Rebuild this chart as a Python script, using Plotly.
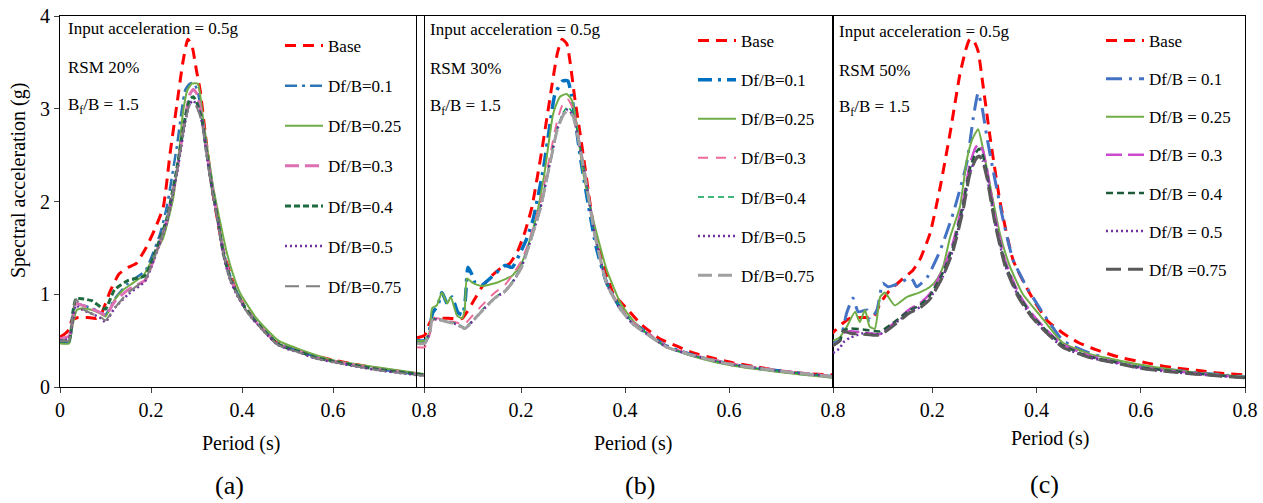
import plotly.graph_objects as go

W, H = 1263, 503
FONT = "Liberation Serif"

NAMES_AB = ["Base", "Df/B=0.1", "Df/B=0.25", "Df/B=0.3", "Df/B=0.4", "Df/B=0.5", "Df/B=0.75"]
NAMES_C = ["Base", "Df/B = 0.1", "Df/B = 0.25", "Df/B = 0.3", "Df/B = 0.4", "Df/B = 0.5", "Df/B =0.75"]
X_TICKS_A = [0, 0.2, 0.4, 0.6, 0.8]
X_TICKS_BC = [0.2, 0.4, 0.6, 0.8]
Y_TICKS = [0, 1, 2, 3, 4]

# ---------------- panel (a) RSM 20% ----------------
A_T_BASE = [0.0, 0.01, 0.02, 0.026, 0.04, 0.06, 0.08, 0.09, 0.1, 0.11, 0.13, 0.15, 0.167, 0.19, 0.21, 0.227, 0.242, 0.257, 0.27, 0.281,
            0.29, 0.3, 0.308, 0.32, 0.335, 0.36, 0.39, 0.425, 0.47, 0.5, 0.55, 0.6, 0.7, 0.8]
A_BASE = [0.54, 0.57, 0.62, 0.72, 0.75, 0.75, 0.74, 0.78, 0.90, 1.03, 1.22, 1.29, 1.33, 1.51, 1.72, 1.94, 2.52, 3.05, 3.5, 3.75,
          3.68, 3.41, 3.2, 2.7, 2.12, 1.45, 1.0, 0.74, 0.5, 0.43, 0.35, 0.29, 0.2, 0.13]
A_T_025 = [0.0, 0.02, 0.027, 0.037, 0.05, 0.07, 0.086, 0.1, 0.12, 0.14, 0.16, 0.183, 0.2, 0.227, 0.249, 0.262, 0.27, 0.28, 0.29, 0.303,
           0.315, 0.337, 0.352, 0.367, 0.38, 0.396, 0.432, 0.48, 0.53, 0.6, 0.7, 0.8]
A_DF025 = [0.47, 0.47, 0.65, 0.83, 0.85, 0.83, 0.80, 0.76, 0.94, 1.05, 1.12, 1.2, 1.35, 1.61, 2.04, 2.55, 2.95, 3.2, 3.27, 3.27,
           2.87, 2.15, 1.78, 1.44, 1.22, 1.01, 0.74, 0.5, 0.4, 0.29, 0.21, 0.14]
A_T_GRP = [0.0, 0.02, 0.028, 0.035, 0.05, 0.07, 0.09, 0.1, 0.12, 0.15, 0.187, 0.205, 0.22, 0.235, 0.257, 0.275, 0.285, 0.293, 0.302, 0.312,
           0.323, 0.334, 0.347, 0.359, 0.374, 0.389, 0.407, 0.424, 0.45, 0.477, 0.5, 0.527, 0.56, 0.608, 0.7, 0.8]
A_DF01 = [0.48, 0.48, 0.75, 0.90, 0.88, 0.85, 0.80, 0.78, 0.95, 1.12, 1.25, 1.45, 1.65, 1.95, 2.6, 3.2, 3.27, 3.28, 3.2, 2.92,
          2.55, 2.2, 1.83, 1.47, 1.2, 1.02, 0.86, 0.75, 0.61, 0.48, 0.43, 0.38, 0.33, 0.27, 0.19, 0.13]
A_DF03 = [0.52, 0.55, 0.75, 0.90, 0.88, 0.84, 0.80, 0.77, 0.92, 1.05, 1.15, 1.36, 1.57, 1.8, 2.33, 2.9, 3.15, 3.21, 3.15, 2.9,
          2.52, 2.17, 1.8, 1.45, 1.18, 1.01, 0.85, 0.74, 0.6, 0.47, 0.42, 0.38, 0.32, 0.27, 0.19, 0.13]
A_DF04 = [0.5, 0.5, 0.8, 0.95, 0.95, 0.93, 0.86, 0.84, 1.05, 1.15, 1.2, 1.4, 1.6, 1.82, 2.36, 2.9, 3.1, 3.13, 3.05, 2.88,
          2.5, 2.15, 1.8, 1.44, 1.17, 1.01, 0.85, 0.74, 0.6, 0.47, 0.42, 0.38, 0.32, 0.27, 0.19, 0.13]
A_DF05 = [0.5, 0.52, 0.7, 0.88, 0.83, 0.79, 0.74, 0.70, 0.85, 1.0, 1.14, 1.35, 1.56, 1.78, 2.3, 2.85, 3.05, 3.09, 3.02, 2.86,
          2.48, 2.13, 1.78, 1.42, 1.15, 0.99, 0.84, 0.73, 0.59, 0.46, 0.41, 0.37, 0.31, 0.26, 0.18, 0.12]
A_DF075 = [0.5, 0.5, 0.8, 0.95, 0.84, 0.79, 0.75, 0.72, 0.85, 1.02, 1.16, 1.36, 1.57, 1.8, 2.33, 2.86, 3.04, 3.07, 3.0, 2.85,
           2.48, 2.13, 1.78, 1.43, 1.16, 1.0, 0.84, 0.73, 0.59, 0.46, 0.41, 0.37, 0.31, 0.26, 0.18, 0.12]

# ---------------- panel (b) RSM 30% ----------------
B_T_BASE = [0.0, 0.015, 0.025, 0.035, 0.06, 0.087, 0.095, 0.106, 0.125, 0.144, 0.163, 0.178, 0.194, 0.208, 0.221, 0.24, 0.26, 0.27, 0.279, 0.288,
            0.294, 0.304, 0.314, 0.323, 0.342, 0.367, 0.377, 0.406, 0.43, 0.467, 0.5, 0.53, 0.57, 0.608, 0.65, 0.711, 0.76, 0.8]
B_BASE = [0.53, 0.56, 0.70, 0.74, 0.74, 0.74, 0.8, 0.9, 1.08, 1.2, 1.29, 1.33, 1.47, 1.68, 1.94, 2.55, 3.27, 3.6, 3.75, 3.7,
          3.52, 3.09, 2.72, 2.37, 1.65, 1.18, 1.01, 0.83, 0.68, 0.52, 0.44, 0.37, 0.31, 0.26, 0.22, 0.16, 0.14, 0.13]
B_T_01 = [0.0, 0.015, 0.022, 0.03, 0.04, 0.048, 0.058, 0.067, 0.079, 0.088, 0.093, 0.098, 0.105, 0.112, 0.125, 0.15, 0.169, 0.183, 0.198, 0.211,
          0.223, 0.243, 0.255, 0.265, 0.28, 0.29, 0.297, 0.305, 0.315, 0.33, 0.345, 0.365, 0.39, 0.415, 0.45, 0.48, 0.544, 0.608, 0.7, 0.8]
B_DF01 = [0.5, 0.5, 0.55, 0.8, 0.88, 1.02, 0.9, 0.97, 0.8, 0.78, 0.95, 1.29, 1.22, 1.12, 1.1, 1.22, 1.31, 1.29, 1.44, 1.6,
          1.8, 2.35, 2.8, 3.15, 3.3, 3.3, 3.15, 2.85, 2.45, 1.95, 1.5, 1.12, 0.86, 0.7, 0.55, 0.44, 0.32, 0.24, 0.17, 0.11]
B_T_025 = [0.0, 0.015, 0.025, 0.029, 0.038, 0.048, 0.058, 0.065, 0.077, 0.087, 0.092, 0.096, 0.108, 0.125, 0.156, 0.183, 0.2, 0.215, 0.23, 0.245,
           0.262, 0.275, 0.288, 0.298, 0.308, 0.319, 0.339, 0.365, 0.39, 0.404, 0.43, 0.48, 0.544, 0.608, 0.7, 0.8]
B_DF025 = [0.5, 0.5, 0.6, 0.85, 0.88, 1.02, 0.9, 0.97, 0.77, 0.74, 0.85, 1.17, 1.12, 1.09, 1.13, 1.2, 1.32, 1.55, 1.85, 2.3,
           2.95, 3.13, 3.16, 3.09, 2.8, 2.33, 1.8, 1.26, 0.92, 0.8, 0.63, 0.43, 0.31, 0.23, 0.16, 0.1]
B_T_GRP = [0.0, 0.015, 0.025, 0.029, 0.038, 0.06, 0.073, 0.085, 0.092, 0.102, 0.125, 0.15, 0.169, 0.185, 0.2, 0.211, 0.237, 0.256, 0.27, 0.282,
           0.29, 0.3, 0.31, 0.323, 0.342, 0.365, 0.39, 0.415, 0.45, 0.48, 0.544, 0.608, 0.7, 0.8]
B_DF03 = [0.43, 0.43, 0.58, 0.72, 0.74, 0.71, 0.70, 0.68, 0.68, 0.74, 0.88, 1.02, 1.1, 1.22, 1.35, 1.5, 1.98, 2.5, 2.88, 3.07,
          3.1, 3.0, 2.72, 2.32, 1.66, 1.13, 0.87, 0.7, 0.56, 0.44, 0.33, 0.25, 0.18, 0.12]
B_DF04 = [0.48, 0.48, 0.6, 0.72, 0.74, 0.70, 0.69, 0.66, 0.64, 0.69, 0.83, 0.97, 1.04, 1.15, 1.3, 1.47, 1.94, 2.44, 2.8, 2.97,
          3.02, 2.95, 2.7, 2.3, 1.65, 1.12, 0.86, 0.69, 0.55, 0.43, 0.32, 0.24, 0.17, 0.11]
B_DF05 = [0.47, 0.47, 0.6, 0.72, 0.73, 0.70, 0.68, 0.65, 0.63, 0.68, 0.82, 0.96, 1.03, 1.14, 1.28, 1.45, 1.92, 2.42, 2.78, 2.95,
          2.99, 2.93, 2.68, 2.28, 1.64, 1.11, 0.85, 0.68, 0.54, 0.43, 0.32, 0.24, 0.17, 0.11]
B_DF075 = [0.47, 0.47, 0.6, 0.72, 0.73, 0.70, 0.68, 0.65, 0.63, 0.68, 0.82, 0.96, 1.03, 1.14, 1.28, 1.45, 1.92, 2.42, 2.78, 2.94,
           2.98, 2.92, 2.68, 2.28, 1.64, 1.11, 0.85, 0.68, 0.54, 0.43, 0.32, 0.24, 0.17, 0.11]

# ---------------- panel (c) RSM 50% ----------------
C_T_BASE = [0.0, 0.01, 0.029, 0.042, 0.067, 0.087, 0.1, 0.115, 0.144, 0.163, 0.176, 0.196, 0.215, 0.234, 0.253, 0.265, 0.272, 0.28, 0.288, 0.297,
            0.31, 0.33, 0.355, 0.387, 0.42, 0.451, 0.48, 0.515, 0.56, 0.611, 0.66, 0.707, 0.75, 0.8]
C_BASE = [0.55, 0.59, 0.69, 0.74, 0.75, 0.75, 0.9, 1.02, 1.17, 1.26, 1.37, 1.66, 2.15, 2.73, 3.37, 3.65, 3.75, 3.73, 3.62, 3.27,
          2.73, 2.0, 1.37, 1.01, 0.72, 0.58, 0.48, 0.4, 0.32, 0.26, 0.21, 0.18, 0.15, 0.13]
C_T_01 = [0.0, 0.01, 0.023, 0.036, 0.048, 0.058, 0.075, 0.08, 0.094, 0.105, 0.115, 0.138, 0.157, 0.163, 0.17, 0.19, 0.215, 0.24, 0.266, 0.28,
          0.288, 0.296, 0.305, 0.317, 0.336, 0.355, 0.381, 0.412, 0.451, 0.5, 0.547, 0.6, 0.65, 0.7, 0.8]
C_DF01 = [0.45, 0.47, 0.51, 0.8, 0.96, 0.81, 0.83, 0.72, 0.83, 1.12, 1.08, 1.12, 1.18, 1.15, 1.08, 1.18, 1.47, 1.87, 2.41, 2.95,
          3.17, 3.0, 2.69, 2.33, 1.8, 1.37, 1.08, 0.8, 0.5, 0.37, 0.29, 0.23, 0.19, 0.16, 0.11]
C_T_025 = [0.0, 0.01, 0.023, 0.036, 0.052, 0.061, 0.071, 0.08, 0.09, 0.1, 0.109, 0.128, 0.151, 0.176, 0.196, 0.21, 0.221, 0.234, 0.253, 0.266,
           0.276, 0.288, 0.297, 0.31, 0.33, 0.349, 0.374, 0.407, 0.45, 0.5, 0.6, 0.7, 0.8]
C_DF025 = [0.48, 0.5, 0.54, 0.65, 0.81, 0.70, 0.83, 0.65, 0.63, 0.97, 1.02, 0.88, 0.97, 1.02, 1.08, 1.17, 1.3, 1.61, 1.94, 2.44,
           2.66, 2.78, 2.58, 2.2, 1.65, 1.3, 1.0, 0.77, 0.48, 0.36, 0.24, 0.16, 0.11]
C_T_GRP = [0.0, 0.01, 0.023, 0.029, 0.042, 0.067, 0.1, 0.132, 0.157, 0.176, 0.196, 0.221, 0.24, 0.259, 0.272, 0.283, 0.29, 0.297, 0.305, 0.32,
           0.34, 0.365, 0.39, 0.42, 0.45, 0.5, 0.55, 0.6, 0.7, 0.8]
C_DF03 = [0.45, 0.45, 0.5, 0.58, 0.6, 0.59, 0.57, 0.72, 0.84, 0.9, 1.01, 1.27, 1.56, 2.0, 2.4, 2.58, 2.62, 2.55, 2.35, 1.85,
          1.36, 1.02, 0.8, 0.61, 0.46, 0.34, 0.27, 0.21, 0.15, 0.1]
C_DF04 = [0.45, 0.45, 0.5, 0.61, 0.63, 0.62, 0.6, 0.72, 0.83, 0.88, 0.99, 1.24, 1.52, 1.96, 2.35, 2.52, 2.57, 2.5, 2.3, 1.8,
          1.33, 1.0, 0.78, 0.6, 0.45, 0.33, 0.27, 0.21, 0.15, 0.1]
C_DF05 = [0.37, 0.37, 0.42, 0.48, 0.53, 0.58, 0.57, 0.7, 0.81, 0.86, 0.96, 1.2, 1.48, 1.92, 2.3, 2.46, 2.5, 2.44, 2.27, 1.78,
          1.31, 0.98, 0.76, 0.58, 0.43, 0.32, 0.26, 0.2, 0.14, 0.1]
C_DF075 = [0.45, 0.45, 0.5, 0.6, 0.58, 0.57, 0.56, 0.69, 0.8, 0.85, 0.95, 1.2, 1.47, 1.9, 2.29, 2.45, 2.49, 2.43, 2.25, 1.77,
           1.3, 0.97, 0.76, 0.58, 0.43, 0.32, 0.26, 0.2, 0.14, 0.1]

# styles: (color, width, dash)
STY_A = [("#FF0000", 3, "11px,7px"), ("#2E75B6", 2.5, "12px,5px,3px,5px"), ("#70AD47", 2, "solid"),
         ("#DD6FB2", 3, "14px,6px"), ("#1E6B3F", 3, "6px,3px"), ("#7030A0", 2.5, "2px,3px"), ("#7F7F7F", 2, "14px,7px")]
STY_B = [("#FF0000", 3, "11px,7px"), ("#0070C0", 3.5, "14px,6px,3px,6px"), ("#70AD47", 2, "solid"),
         ("#EE6A9A", 2, "10px,8px"), ("#00A050", 1.5, "6px,4px"), ("#7030A0", 2.5, "2px,3px"), ("#A0A0A0", 3, "14px,6px")]
STY_C = [("#FF0000", 3, "11px,7px"), ("#4472C4", 3, "16px,7px,3px,7px"), ("#70AD47", 2, "solid"),
         ("#CC4ACC", 2.5, "16px,6px"), ("#1E5B3A", 2.5, "7px,4px"), ("#7030A0", 2.5, "2px,3px"), ("#595959", 3, "15px,7px")]

def px_x(p):
    return p / W

def px_y(p):
    return 1 - p / H

fig = go.Figure()

panels = [
    ("x", "y", "legend", NAMES_AB, STY_A,
     [(A_T_BASE, A_BASE), (A_T_GRP, A_DF01), (A_T_025, A_DF025), (A_T_GRP, A_DF03),
      (A_T_GRP, A_DF04), (A_T_GRP, A_DF05), (A_T_GRP, A_DF075)]),
    ("x2", "y2", "legend2", NAMES_AB, STY_B,
     [(B_T_BASE, B_BASE), (B_T_01, B_DF01), (B_T_025, B_DF025), (B_T_GRP, B_DF03),
      (B_T_GRP, B_DF04), (B_T_GRP, B_DF05), (B_T_GRP, B_DF075)]),
    ("x3", "y3", "legend3", NAMES_C, STY_C,
     [(C_T_BASE, C_BASE), (C_T_01, C_DF01), (C_T_025, C_DF025), (C_T_GRP, C_DF03),
      (C_T_GRP, C_DF04), (C_T_GRP, C_DF05), (C_T_GRP, C_DF075)]),
]

for xa, ya, lg, names, sty, series in panels:
    for i, ((t, v), name, (col, wd, dash)) in enumerate(zip(series, names, sty)):
        fig.add_trace(go.Scatter(
            x=t, y=v, name=name, mode="lines", xaxis=xa, yaxis=ya, legend=lg,
            legendgroup=lg + str(i),
            line=dict(color=col, width=wd, dash=dash, shape="spline", smoothing=0.5),
        ))

YDOM = [px_y(387), px_y(16)]
axis_common = dict(showline=True, linecolor="black", linewidth=1, mirror=True, showgrid=False,
                   zeroline=False, tickfont=dict(family=FONT, size=20, color="black"))

fig.update_layout(
    width=W, height=H, margin=dict(l=0, r=0, t=0, b=0, autoexpand=False),
    paper_bgcolor="white", plot_bgcolor="rgba(0,0,0,0)",
    font=dict(family=FONT, size=17, color="black"),
    xaxis=dict(domain=[px_x(60), px_x(424)], range=[0, 0.8], tickvals=X_TICKS_A,
               ticktext=[f"{t:g}" for t in X_TICKS_A], ticks="outside", ticklen=5, anchor="y", **axis_common),
    yaxis=dict(domain=YDOM, range=[0, 4], tickvals=Y_TICKS, ticks="outside", ticklen=5, anchor="x", **axis_common),
    xaxis2=dict(domain=[px_x(417), px_x(833)], range=[0, 0.8], tickvals=X_TICKS_BC,
                ticktext=[f"{t:g}" for t in X_TICKS_BC], ticks="outside", ticklen=5, anchor="y2", **axis_common),
    yaxis2=dict(domain=YDOM, range=[0, 4], showticklabels=False, ticks="", anchor="x2", **axis_common),
    xaxis3=dict(domain=[px_x(833), px_x(1245)], range=[0.0096, 0.8], tickvals=X_TICKS_BC,
                ticktext=[f"{t:g}" for t in X_TICKS_BC], ticks="outside", ticklen=5, anchor="y3", **axis_common),
    yaxis3=dict(domain=YDOM, range=[0, 4], showticklabels=False, ticks="", anchor="x3", **axis_common),
    showlegend=True,
)

leg_common = dict(bgcolor="rgba(0,0,0,0)", borderwidth=0, xanchor="left", yanchor="top",
                  itemwidth=38, font=dict(family=FONT, size=17, color="black"), itemclick=False)
fig.update_layout(
    legend=dict(x=px_x(280), y=px_y(28), tracegroupgap=15, **leg_common),
    legend2=dict(x=px_x(693), y=px_y(23), tracegroupgap=14, **leg_common),
    legend3=dict(x=px_x(1101), y=px_y(23), tracegroupgap=13, **leg_common),
)

ann = []
def add_text(text, x, y, size=17, anchor="left", angle=0):
    ann.append(dict(text=text, x=px_x(x), y=px_y(y), xref="paper", yref="paper", showarrow=False,
                    xanchor=anchor, yanchor="middle", textangle=angle,
                    font=dict(family=FONT, size=size, color="black")))

for x0, rsm, dy in [(66, "RSM 20%", 0), (428, "RSM 30%", 1), (837, "RSM 50%", 2)]:
    add_text("Input acceleration = 0.5g", x0, 29 + dy)
    add_text(rsm, x0, 68 + dy)
    add_text("B<sub>f</sub>/B = 1.5", x0, 106 + dy)

add_text("Spectral acceleration (g)", 18, 181, size=20, anchor="center", angle=-90)
add_text("Period (s)", 241, 443, size=20, anchor="center")
add_text("Period (s)", 633, 443, size=20, anchor="center")
add_text("Period (s)", 1050, 438, size=20, anchor="center")
add_text("(a)", 230, 485, size=26, anchor="center")
add_text("(b)", 640, 485, size=26, anchor="center")
add_text("(c)", 1044, 484, size=26, anchor="center")
fig.update_layout(annotations=ann)

fig.write_html("out.html")
